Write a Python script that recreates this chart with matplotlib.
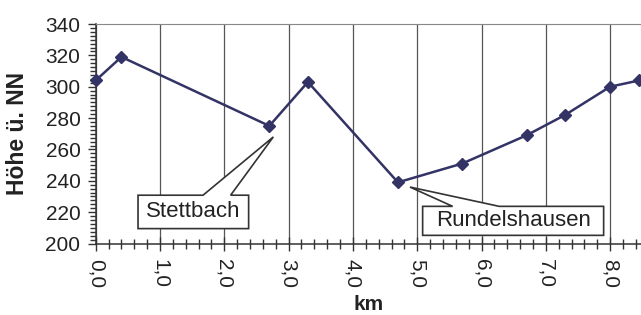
import matplotlib
matplotlib.use("Agg")
import matplotlib.pyplot as plt
from matplotlib.patches import Polygon
from matplotlib.ticker import MultipleLocator, FuncFormatter

plt.rcParams['font.family'] = ['Liberation Sans', 'DejaVu Sans']

# elevation profile
km = [0.0, 0.4, 2.7, 3.3, 4.7, 5.7, 6.7, 7.3, 8.0, 8.45]
hoehe = [304, 319, 275, 303, 239, 251, 269, 282, 300, 304]

# place names (index into the data)
orte = [(2, "Stettbach"), (4, "Rundelshausen")]

line_col = "#333366"
text_col = "#222222"

W, H = 641, 315
fig = plt.figure(figsize=(W / 100, H / 100), dpi=100)
ax = fig.add_axes([95.7 / W, 1 - 243.5 / H, (642.3 - 95.7) / W, (243.5 - 24) / H])

ax.plot(km, hoehe, color=line_col, lw=1.8, marker="D", ms=6.6,
        mec=line_col, mfc=line_col, clip_on=False, zorder=5)

ax.set_xlim(0, 8.5)
ax.set_ylim(200, 340)
ax.xaxis.set_major_locator(MultipleLocator(1))
ax.xaxis.set_minor_locator(MultipleLocator(0.2))
ax.yaxis.set_major_locator(MultipleLocator(20))
ax.yaxis.set_minor_locator(MultipleLocator(2.5))
ax.xaxis.set_major_formatter(FuncFormatter(lambda v, p: f"{v:.1f}".replace(".", ",")))

ax.grid(axis="x", which="major", color="#555555", lw=0.9)
ax.set_axisbelow(True)

for s in ["left", "bottom"]:
    ax.spines[s].set_color("#333333")
    ax.spines[s].set_linewidth(1.1)
ax.spines["top"].set_color("#888888")
ax.spines["right"].set_visible(False)

ax.tick_params(axis="x", which="major", direction="inout", length=10, width=1,
               color="#333333", labelsize=15, labelcolor=text_col,
               labelrotation=270, pad=6)
ax.tick_params(axis="x", which="minor", direction="inout", length=7, width=1,
               color="#333333")
ax.tick_params(axis="y", which="major", direction="out", length=6, width=1,
               color="#333333", labelsize=15, labelcolor=text_col, pad=5)
ax.tick_params(axis="y", which="minor", direction="out", length=4, width=1,
               color="#333333")

ax.set_xlabel("km", fontsize=15, fontweight="bold", color=text_col)
ax.xaxis.set_label_coords(0.5, -0.235)
ax.set_ylabel("Höhe ü. NN", fontsize=16.5, fontweight="bold", color=text_col)
ax.yaxis.set_label_coords(-0.122, 0.5)

# callouts (offsets in pixels, image y pointing down, relative to the point)
callouts = {
    "Stettbach": dict(tip=(4, 11), base=(-66.3, -38.7), box=(-131.3, -20.7, 69.3, 102.7)),
    "Rundelshausen": dict(tip=(12, 4.7), base=(54.7, 101.3), box=(24.7, 205.7, 24, 53)),
}
for i, name in orte:
    px, py = ax.transData.transform((km[i], hoehe[i]))
    c = callouts[name]
    x0, x1, yt, yb = c["box"]
    b0, b1 = c["base"]
    pts = [c["tip"], (b1, yt), (x1, yt), (x1, yb), (x0, yb), (x0, yt), (b0, yt)]
    verts = [(px + dx, py - dy) for dx, dy in pts]
    ax.add_patch(Polygon(verts, closed=True, transform=None, facecolor="white",
                         edgecolor="#333333", lw=1.2, zorder=6))
    fig.text((px + (x0 + x1) / 2) / W, (py - (yt + yb) / 2) / H, name,
             ha="center", va="center", fontsize=16, color=text_col, zorder=7)

fig.savefig("out.png", dpi=100)
